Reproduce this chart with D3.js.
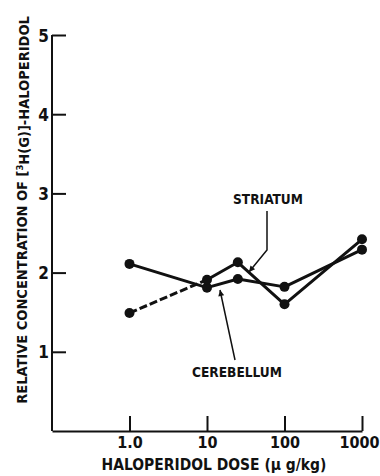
<!DOCTYPE html>
<html><head><meta charset="utf-8">
<script src="https://cdn.jsdelivr.net/npm/d3@7"></script>
<style>
html,body{margin:0;padding:0;background:#fff;}
text{font-family:"Liberation Sans Narrow","DejaVu Sans Condensed","Roboto Condensed",sans-serif;font-weight:bold;fill:#111;}
</style></head><body>
<svg id="c" width="380" height="476"></svg>
<script>
const doses = [1, 10, 25, 100, 1000];
const cerebellum = [2.11, 1.81, 1.92, 1.82, 2.29];
const striatum = [1.49, 1.91, 2.13, 1.60, 2.42];
const xTicks = [1, 10, 100, 1000];
const xTickLabels = ["1.0", "10", "100", "1000"];
const yTicks = [1, 2, 3, 4, 5];

const svg = d3.select("#c");
const x = d3.scaleLog().domain([0.1, 1000]).range([52, 362]);
const y = d3.scaleLinear().domain([0, 5]).range([431, 35]);
const ink = "#111";

// scale a text's font size so its natural width matches a target width
function fit(sel, target, base) {
  sel.attr("font-size", base);
  const w = sel.node().getComputedTextLength();
  if (w > 0) sel.attr("font-size", base * target / w);
  return sel;
}

// X axis
const gx = svg.append("g").attr("transform", `translate(0,${y(0)})`)
  .call(d3.axisBottom(x).tickValues(xTicks).tickFormat((d,i)=>xTickLabels[i])
    .tickSizeInner(-15).tickSizeOuter(0).tickPadding(6));
gx.selectAll("path,line").attr("stroke", ink).attr("stroke-width", 2);
gx.attr("font-family", null).attr("font-size", null);
gx.selectAll("text").attr("dy", null).attr("y", 17).attr("font-size", 16);
gx.selectAll(".tick").filter(d => d === 1000).select("text").attr("dx", -3);

// Y axis
const gy = svg.append("g").attr("transform", `translate(${x(0.1)},0)`)
  .call(d3.axisLeft(y).tickValues(yTicks).tickFormat(d3.format("d"))
    .tickSizeInner(-14).tickSizeOuter(0).tickPadding(3));
gy.selectAll("path,line").attr("stroke", ink).attr("stroke-width", 2);
gy.attr("font-family", null).attr("font-size", null);
gy.selectAll("text").attr("font-size", 17).attr("dy", "0.36em");
gy.select(".domain").attr("d", `M0,${y(0)}V${y(5)}`);

// Axis titles
const xt = svg.append("text").attr("x", 214).attr("y", 470).attr("text-anchor", "middle")
  .text("HALOPERIDOL DOSE (\u03BC g/kg)");
fit(xt, 225, 17);

const yt = svg.append("text").attr("transform", "translate(27,210) rotate(-90)")
  .attr("text-anchor", "middle");
yt.append("tspan").text("RELATIVE CONCENTRATION OF [");
yt.append("tspan").attr("font-size", "0.65em").attr("dy", "-0.4em").text("3");
yt.append("tspan").attr("dy", "0.4em").text("H(G)]-HALOPERIDOL");
fit(yt, 388, 17);

// Lines
const line = d3.line().x(d => x(d[0])).y(d => y(d[1]));
const cPts = doses.map((d,i)=>[d, cerebellum[i]]);
const sPts = doses.map((d,i)=>[d, striatum[i]]);

svg.append("path").attr("d", line(cPts)).attr("fill","none").attr("stroke", ink)
  .attr("stroke-width", 3).attr("stroke-linejoin","round");
svg.append("path").attr("d", line(sPts.slice(0,2))).attr("fill","none").attr("stroke", ink)
  .attr("stroke-width", 3).attr("stroke-dasharray", "8,3");
svg.append("path").attr("d", line(sPts.slice(1))).attr("fill","none").attr("stroke", ink)
  .attr("stroke-width", 3).attr("stroke-linejoin","round");

svg.selectAll("circle.c").data(cPts).join("circle").attr("class","c")
  .attr("cx", d=>x(d[0])).attr("cy", d=>y(d[1])).attr("r", 5).attr("fill", ink);
svg.selectAll("circle.s").data(sPts).join("circle").attr("class","s")
  .attr("cx", d=>x(d[0])).attr("cy", d=>y(d[1])).attr("r", 5).attr("fill", ink);

// Annotations
const defs = svg.append("defs");
defs.append("marker").attr("id","ah").attr("viewBox","0 0 10 10").attr("refX",10).attr("refY",5)
  .attr("markerWidth",8).attr("markerHeight",6).attr("markerUnits","userSpaceOnUse").attr("orient","auto")
  .append("path").attr("d","M0,0L10,5L0,10Z").attr("fill", ink);

const st = svg.append("text").attr("x", 268).attr("y", 204).attr("text-anchor","middle").text("STRIATUM");
fit(st, 70, 15);
svg.append("path").attr("d","M267,211V250L249,272").attr("fill","none").attr("stroke",ink)
  .attr("stroke-width",1.5).attr("marker-end","url(#ah)");

const ce = svg.append("text").attr("x", 237).attr("y", 377).attr("text-anchor","middle").text("CEREBELLUM");
fit(ce, 90, 15);
svg.append("path").attr("d","M235,360L220,290").attr("fill","none").attr("stroke",ink)
  .attr("stroke-width",1.5).attr("marker-end","url(#ah)");
</script></body></html>
